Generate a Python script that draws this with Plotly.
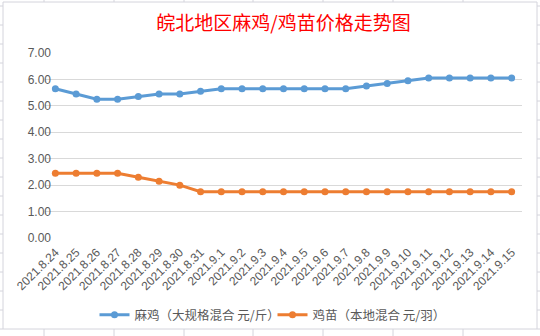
import plotly.graph_objects as go

dates = ["2021.8.24","2021.8.25","2021.8.26","2021.8.27","2021.8.28","2021.8.29","2021.8.30","2021.8.31",
         "2021.9.1","2021.9.2","2021.9.3","2021.9.4","2021.9.5","2021.9.6","2021.9.7","2021.9.8","2021.9.9",
         "2021.9.10","2021.9.11","2021.9.12","2021.9.13","2021.9.14","2021.9.15"]
maji = [5.65, 5.45, 5.25, 5.25, 5.35, 5.45, 5.45, 5.55, 5.65, 5.65, 5.65, 5.65, 5.65, 5.65, 5.65,
        5.75, 5.85, 5.95, 6.05, 6.05, 6.05, 6.05, 6.05]
jimiao = [2.45, 2.45, 2.45, 2.45, 2.30, 2.15, 2.00, 1.75, 1.75, 1.75, 1.75, 1.75, 1.75, 1.75, 1.75,
          1.75, 1.75, 1.75, 1.75, 1.75, 1.75, 1.75, 1.75]
yticks = [0, 1, 2, 3, 4, 5, 6, 7]

W, H = 540, 336
L, R, T, B = 45, 18, 53, 98

fig = go.Figure()
fig.add_trace(go.Scatter(x=dates, y=maji, mode="lines+markers", name="麻鸡（大规格混合 元/斤）",
                         line=dict(color="#5B9BD5", width=3), marker=dict(size=7, color="#5B9BD5")))
fig.add_trace(go.Scatter(x=dates, y=jimiao, mode="lines+markers", name="鸡苗（本地混合 元/羽）",
                         line=dict(color="#ED7D31", width=3), marker=dict(size=7, color="#ED7D31")))

def px(x):
    return (x - L) / (W - L - R)

def py(y):
    return 1 - (y - T) / (H - T - B)

shapes = []
grid = "#D4D4DC"
shapes.append(dict(type="rect", xref="paper", yref="paper", x0=px(3), x1=px(537), y0=py(2), y1=py(329),
                   line=dict(color=grid, width=1), layer="below"))
for cx in [44, 114, 184, 253, 323, 393, 463]:
    shapes.append(dict(type="line", xref="paper", yref="paper", x0=px(cx), x1=px(cx), y0=py(0), y1=py(2),
                       line=dict(color=grid, width=1)))
    shapes.append(dict(type="line", xref="paper", yref="paper", x0=px(cx), x1=px(cx), y0=py(329), y1=py(336),
                       line=dict(color=grid, width=1)))
for ry in range(6, 330, 19):
    shapes.append(dict(type="line", xref="paper", yref="paper", x0=px(0), x1=px(3), y0=py(ry), y1=py(ry),
                       line=dict(color=grid, width=1)))
    shapes.append(dict(type="line", xref="paper", yref="paper", x0=px(537), x1=px(540), y0=py(ry), y1=py(ry),
                       line=dict(color=grid, width=1)))

fig.update_layout(
    width=W, height=H,
    margin=dict(l=L, r=R, t=T, b=B, autoexpand=False),
    paper_bgcolor="white", plot_bgcolor="white",
    title=dict(text="皖北地区麻鸡/鸡苗价格走势图", x=0.5, xref="paper", xanchor="center",
               y=1 - 23 / H, yref="container", yanchor="middle",
               font=dict(family="Noto Sans CJK SC", size=19, color="#FF0000")),
    font=dict(family="Liberation Sans", size=12, color="#595959"),
    xaxis=dict(tickangle=-45, showgrid=False, showline=False, ticks="", zeroline=False,
               automargin=False,
               tickfont=dict(family="Liberation Sans", size=12, color="#595959"),
               ticklabelstandoff=4,
               range=[-0.5, len(dates) - 0.5]),
    yaxis=dict(range=[0, 7], tickvals=yticks, tickformat=".2f", showgrid=True, gridcolor="#D9D9D9",
               gridwidth=1, zeroline=False, showline=False, ticks="", automargin=False,
               ticklabelstandoff=-7,
               tickfont=dict(family="Liberation Sans", size=12, color="#595959")),
    legend=dict(orientation="h", x=0.5 - 11 / (W - L - R), xanchor="center", y=py(315), yanchor="middle",
                font=dict(family="Noto Sans CJK SC", size=12.5, color="#595959"),
                itemwidth=30, entrywidth=133, entrywidthmode="pixels",
                bgcolor="rgba(0,0,0,0)", tracegroupgap=0),
    shapes=shapes,
)

fig.write_html("out.html")
